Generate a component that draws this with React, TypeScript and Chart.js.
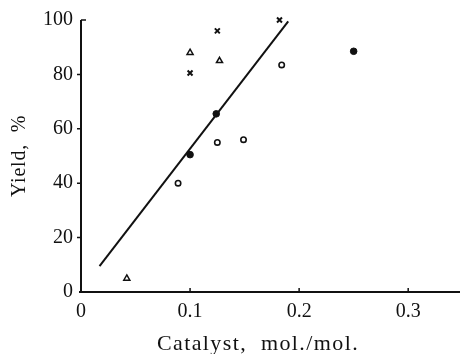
import React, { useEffect, useRef } from "react";
import { Chart, registerables } from "chart.js";

Chart.register(...registerables);

const X_TITLE = "Catalyst,  mol./mol.";
const Y_TITLE = "Yield,  %";
const X_TICKS = [0, 0.1, 0.2, 0.3];
const Y_TICKS = [0, 20, 40, 60, 80, 100];

const CROSS_X = [0.1, 0.125, 0.182];
const CROSS_Y = [80.5, 96, 100];
const TRI_X = [0.1, 0.127, 0.042];
const TRI_Y = [88, 85, 5];
const OPEN_X = [0.089, 0.125, 0.149, 0.184];
const OPEN_Y = [40, 55, 56, 83.5];
const FILLED_X = [0.1, 0.124, 0.25];
const FILLED_Y = [50.5, 65.5, 88.5];
const LINE_X = [0.017, 0.19];
const LINE_Y = [9.5, 99.5];

const FONT = "'Liberation Serif', 'DejaVu Serif', serif";

const pts = (xs: number[], ys: number[]) => xs.map((x, i) => ({ x, y: ys[i] }));

const axesPlugin = {
  id: "axesPlugin",
  afterDraw(chart: any) {
    const ctx = chart.ctx;
    const xs = chart.scales.x;
    const ys = chart.scales.y;
    const x0 = xs.getPixelForValue(0);
    const y0 = ys.getPixelForValue(0);
    const yTop = ys.getPixelForValue(100);
    ctx.save();
    ctx.strokeStyle = "#111";
    ctx.lineWidth = 2;
    ctx.beginPath();
    ctx.moveTo(x0, yTop);
    ctx.lineTo(x0, y0);
    ctx.moveTo(x0 - 2, y0);
    ctx.lineTo(chart.width, y0);
    ctx.stroke();
    ctx.lineWidth = 1.5;
    ctx.beginPath();
    Y_TICKS.forEach((v) => {
      const py = ys.getPixelForValue(v);
      if (v === 100) {
        ctx.moveTo(x0, py);
        ctx.lineTo(x0 + 5, py);
      } else if (v !== 0) {
        ctx.moveTo(x0 - 4, py);
        ctx.lineTo(x0, py);
      }
    });
    X_TICKS.forEach((v) => {
      if (v === 0) return;
      const px = xs.getPixelForValue(v);
      ctx.moveTo(px, y0);
      ctx.lineTo(px, y0 - 4);
    });
    ctx.stroke();
    ctx.fillStyle = "#111";
    ctx.textAlign = "center";
    ctx.textBaseline = "middle";
    ctx.font = `22px ${FONT}`;
    (ctx as any).letterSpacing = "1.4px";
    ctx.fillText(X_TITLE, 258, 344);
    ctx.font = `20px ${FONT}`;
    (ctx as any).letterSpacing = "0.8px";
    ctx.translate(20, 156);
    ctx.rotate(-Math.PI / 2);
    ctx.fillText(Y_TITLE, 0, 0);
    ctx.restore();
  },
};

export default function App() {
  const ref = useRef<HTMLCanvasElement | null>(null);
  useEffect(() => {
    if (!ref.current) return;
    const chart = new Chart(ref.current, {
      type: "scatter",
      data: {
        datasets: [
          {
            type: "line",
            data: pts(LINE_X, LINE_Y),
            borderColor: "#111",
            borderWidth: 2,
            pointRadius: 0,
            fill: false,
            clip: false,
          } as any,
          {
            data: pts(CROSS_X, CROSS_Y),
            pointStyle: "crossRot",
            pointRadius: 3.5,
            borderColor: "#111",
            borderWidth: 2,
            backgroundColor: "#111",
            clip: false,
          },
          {
            data: pts(TRI_X, TRI_Y),
            pointStyle: "triangle",
            pointRadius: 3.5,
            borderColor: "#111",
            borderWidth: 1.5,
            backgroundColor: "#fff",
            clip: false,
          },
          {
            data: pts(OPEN_X, OPEN_Y),
            pointStyle: "circle",
            pointRadius: 2.7,
            borderColor: "#111",
            borderWidth: 1.6,
            backgroundColor: "#fff",
            clip: false,
          },
          {
            data: pts(FILLED_X, FILLED_Y),
            pointStyle: "circle",
            pointRadius: 3.3,
            borderColor: "#111",
            borderWidth: 1,
            backgroundColor: "#111",
            clip: false,
          },
        ],
      },
      options: {
        animation: false,
        responsive: false,
        events: [],
        layout: { padding: { top: 18, right: 0, left: 0, bottom: 0 } },
        plugins: { legend: { display: false }, tooltip: { enabled: false } },
        elements: { point: { hitRadius: 0 } },
        scales: {
          x: {
            type: "linear",
            min: 0,
            max: 0.342,
            grid: { display: false, drawTicks: false },
            border: { display: false },
            afterBuildTicks: (s: any) => {
              s.ticks = X_TICKS.map((v) => ({ value: v }));
            },
            afterFit: (s: any) => {
              s.height = 62;
            },
            ticks: {
              padding: 8,
              color: "#111",
              font: { family: FONT, size: 20 },
              callback: (v: any) => String(v),
            },
          },
          y: {
            min: 0,
            max: 100,
            grid: { display: false, drawTicks: false },
            border: { display: false },
            afterBuildTicks: (s: any) => {
              s.ticks = Y_TICKS.map((v) => ({ value: v }));
            },
            afterFit: (s: any) => {
              s.width = 81;
            },
            ticks: {
              padding: 8,
              color: "#111",
              font: { family: FONT, size: 20 },
            },
          },
        },
      },
      plugins: [axesPlugin],
    });
    return () => chart.destroy();
  }, []);
  return (
    <div style={{ position: "absolute", left: 0, top: 0, width: 460, height: 354, background: "#fff" }}>
      <canvas ref={ref} width={460} height={354} />
    </div>
  );
}
